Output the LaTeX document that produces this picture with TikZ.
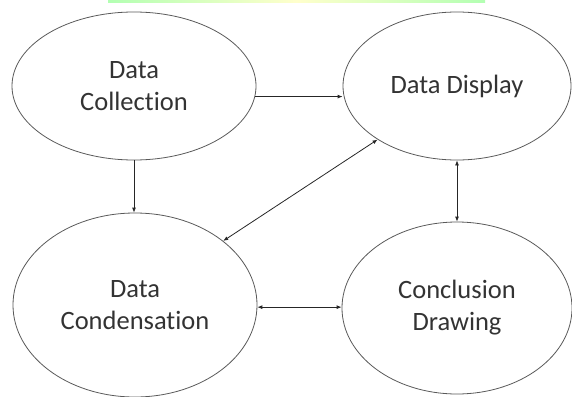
\documentclass[tikz,border=0pt]{standalone}
\usepackage{fontspec}
\setmainfont{Carlito}[Ligatures=NoCommon]
\usetikzlibrary{shapes.geometric,arrows.meta}

\begin{document}
\begin{tikzpicture}[x=1pt,y=-1pt,>={Latex[length=5pt,width=4pt]},
    stage/.style={ellipse,draw=black!65,line width=0.8pt,inner sep=0pt,align=center,
        text=black!80,font=\fontsize{26.5}{32}\selectfont},
    link/.style={black!85,line width=0.8pt}]
        \useasboundingbox (0,0) rectangle (572,396);
        \shade[left color=green!30,right color=green!30,middle color=yellow!20] (108,0) rectangle (485,3);
        \node[stage,minimum width=244pt,minimum height=148pt] (coll) at (134,86) {Data\\Collection};
        \node[stage,minimum width=228pt,minimum height=148pt] (disp) at (457,86) {Data Display};
        \node[stage,minimum width=244pt,minimum height=184pt] (cond) at (135,305) {Data\\Condensation};
        \node[stage,minimum width=230pt,minimum height=172pt] (conc) at (457,308) {Conclusion\\Drawing};
        \draw[->,link] (coll.-5.3)--(coll.-5.3 -| disp.west);
        \draw[->,link] (coll.south)--(coll.south |- cond.north);
        \draw[<->,link] (cond.36.6)--(disp.-146);
        \draw[<->,link] (disp.south)--(disp.south |- conc.north);
        \draw[<->,link] (cond.-1)--(cond.-1 -| conc.west);
    \end{tikzpicture}
\end{document}
